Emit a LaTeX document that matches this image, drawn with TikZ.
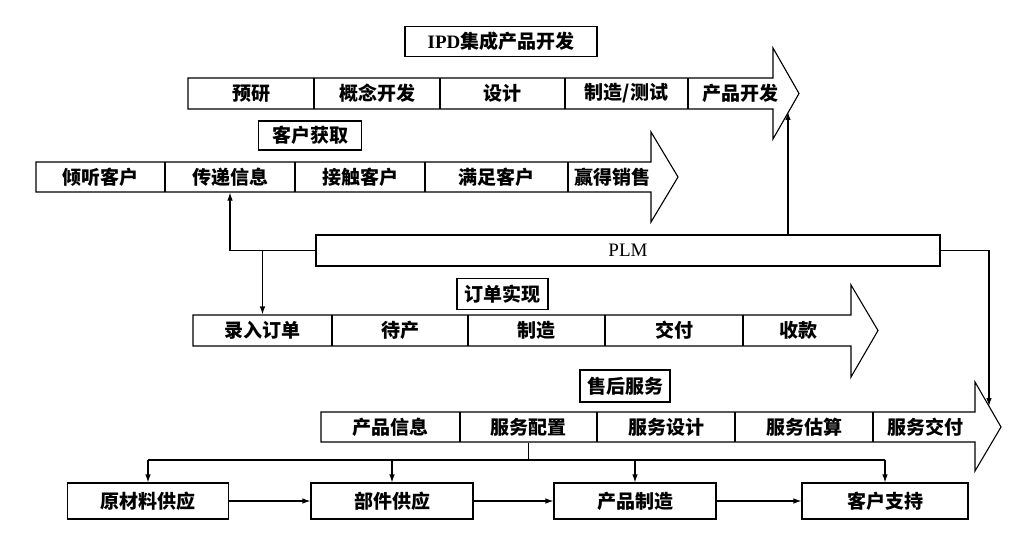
\documentclass[tikz,border=0pt]{standalone}
\usepackage{fontspec}
\setmainfont{Liberation Serif}
\newfontfamily\cjk{Noto Sans CJK SC}
\usetikzlibrary{arrows.meta}
\begin{document}
\begin{tikzpicture}[x=1pt,y=-1pt,line width=1.1pt,
  txt/.style={inner sep=0pt,font=\cjk\bfseries\fontsize{19}{22}\selectfont},
  cell/.style={txt,minimum height=#1},
  tbox/.style={txt,draw,minimum height=30pt},
  bbox/.style={txt,draw,minimum height=36pt,minimum width=162pt},
  arr/.style={-{Latex[length=8pt,width=5.5pt]}}]
\useasboundingbox (0,0) rectangle (1024,540);

% ---------- IPD arrow ----------
\node[tbox,minimum width=192pt] (tipd) at (501,41.5) {{\rmfamily IPD}集成产品开发};
\draw (188,78) -- (773,78) -- (773,48) -- (799,93.5) -- (773,139) -- (773,109) -- (188,109) -- cycle;
\foreach \x in {314,440,565,688} \draw (\x,78) -- (\x,109);
\node[cell=31pt,minimum width=126pt] (i1) at (251,93.5) {预研};
\node[cell=31pt,minimum width=126pt] (i2) at (377,93.5) {概念开发};
\node[cell=31pt,minimum width=125pt] (i3) at (502.5,93.5) {设计};
\node[cell=31pt,minimum width=123pt] (i4) at (626.5,93.5) {制造/测试};
\node[txt] (i5) at (740,93.5) {产品开发};

% ---------- customer acquisition arrow ----------
\node[tbox,minimum width=103pt,minimum height=29pt] (tca) at (310,135.5) {客户获取};
\draw (36,162) -- (651,162) -- (651,132) -- (678,177) -- (651,222) -- (651,192) -- (36,192) -- cycle;
\foreach \x in {165,295,425,568} \draw (\x,162) -- (\x,192);
\node[cell=30pt,minimum width=129pt] (ca1) at (100.5,177) {倾听客户};
\node[cell=30pt,minimum width=130pt] (ca2) at (230,177) {传递信息};
\node[cell=30pt,minimum width=130pt] (ca3) at (360,177) {接触客户};
\node[cell=30pt,minimum width=143pt] (ca4) at (496.5,177) {满足客户};
\node[txt] (ca5) at (612,177) {赢得销售};

% ---------- PLM ----------
\node[txt,draw,minimum width=624pt,minimum height=31pt] (plm) at (628,250.5) {\rmfamily\mdseries PLM};

% ---------- order fulfilment arrow ----------
\node[tbox,minimum width=91pt,minimum height=31pt] (tor) at (502.5,294) {订单实现};
\draw (193,315) -- (851,315) -- (851,285) -- (878,330.5) -- (851,377) -- (851,346) -- (193,346) -- cycle;
\foreach \x in {332,468,605,743} \draw (\x,315) -- (\x,346);
\node[cell=31pt,minimum width=139pt] (o1) at (262.5,330.5) {录入订单};
\node[cell=31pt,minimum width=136pt] (o2) at (400,330.5) {待产};
\node[cell=31pt,minimum width=137pt] (o3) at (536.5,330.5) {制造};
\node[cell=31pt,minimum width=138pt] (o4) at (674,330.5) {交付};
\node[txt] (o5) at (798,330.5) {收款};

% ---------- after-sales service arrow ----------
\node[tbox,minimum width=90pt,minimum height=32pt] (tsv) at (625,386) {售后服务};
\draw (321,412) -- (975,412) -- (975,382) -- (1001,427) -- (975,471) -- (975,442) -- (321,442) -- cycle;
\foreach \x in {460,597,735,873} \draw (\x,412) -- (\x,442);
\node[cell=30pt,minimum width=139pt] (s1) at (390.5,427) {产品信息};
\node[cell=30pt,minimum width=137pt] (s2) at (528.5,427) {服务配置};
\node[cell=30pt,minimum width=138pt] (s3) at (666,427) {服务设计};
\node[cell=30pt,minimum width=138pt] (s4) at (804,427) {服务估算};
\node[txt] (s5) at (925,427) {服务交付};

% ---------- bottom chain ----------
\node[bbox,minimum width=161pt] (b1) at (148,501) {原材料供应};
\node[bbox] (b2) at (392,501) {部件供应};
\node[bbox] (b3) at (635,501) {产品制造};
\node[bbox,minimum width=166pt] (b4) at (885,501) {客户支持};

% ---------- connectors ----------
\coordinate (ipdhit) at (788,112);
\coordinate (svchit) at (989,406);
\coordinate (split) at (528.5,460);
\draw[arr] (plm.west) -| (ca2.south);
\draw[arr] (o1.north |- plm.west) -- (o1.north);
\draw[arr] (plm.north -| ipdhit) -- (ipdhit);
\draw[arr] (plm.east) -| (svchit);
\draw (s2.south) -- (split);
\draw (b1.north |- split) -- (b4.north |- split);
\foreach \b in {b1,b2,b3,b4} \draw[arr] (\b.north |- split) -- (\b.north);
\draw[arr] (b1.east) -- (b2.west);
\draw[arr] (b2.east) -- (b3.west);
\draw[arr] (b3.east) -- (b4.west);
\end{tikzpicture}
\end{document}
